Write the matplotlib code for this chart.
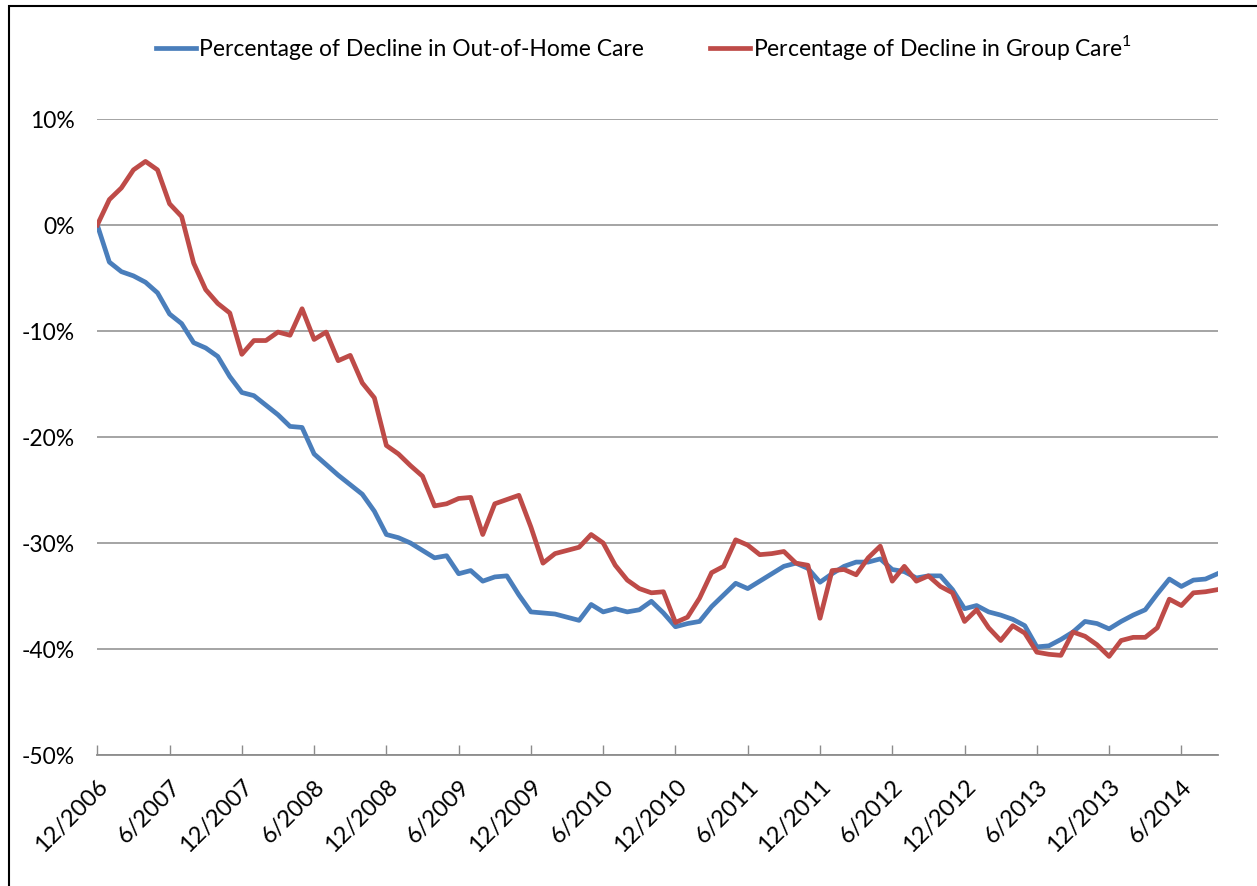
import matplotlib
matplotlib.use("Agg")
import matplotlib.pyplot as plt
from matplotlib.patches import Rectangle
import numpy as np

plt.rcParams['font.family'] = ['Lato', 'DejaVu Sans']

# Monthly data 12/2006 .. 9/2014
start_month, start_year = 12, 2006
out_of_home = [0, -3.5, -4.4, -4.8, -5.4, -6.4, -8.4, -9.3, -11.1, -11.6,
               -12.4, -14.3, -15.8, -16.1, -17.0, -17.9, -19.0, -19.1, -21.6, -22.6,
               -23.6, -24.5, -25.4, -27.0, -29.2, -29.5, -30.0, -30.7, -31.4, -31.2,
               -32.9, -32.6, -33.6, -33.2, -33.1, -34.9, -36.5, -36.6, -36.7, -37.0,
               -37.3, -35.8, -36.5, -36.2, -36.5, -36.3, -35.5, -36.6, -37.9, -37.6,
               -37.4, -36.0, -34.9, -33.8, -34.3, -33.6, -32.9, -32.2, -31.9, -32.4,
               -33.7, -32.9, -32.2, -31.8, -31.8, -31.5, -32.5, -32.7, -33.3, -33.1,
               -33.1, -34.4, -36.2, -35.9, -36.5, -36.8, -37.2, -37.8, -39.8, -39.7,
               -39.1, -38.4, -37.4, -37.6, -38.1, -37.4, -36.8, -36.3, -34.8, -33.4,
               -34.1, -33.5, -33.4, -32.9]
group_care = [0, 2.4, 3.5, 5.2, 6.0, 5.2, 2.0, 0.8, -3.6, -6.1,
              -7.4, -8.3, -12.2, -10.9, -10.9, -10.1, -10.4, -7.9, -10.8, -10.1,
              -12.8, -12.3, -14.9, -16.3, -20.8, -21.6, -22.7, -23.7, -26.5, -26.3,
              -25.8, -25.7, -29.2, -26.3, -25.9, -25.5, -28.5, -31.9, -31.0, -30.7,
              -30.4, -29.2, -30.0, -32.1, -33.5, -34.3, -34.7, -34.6, -37.5, -37.0,
              -35.2, -32.8, -32.2, -29.7, -30.2, -31.1, -31.0, -30.8, -31.9, -32.1,
              -37.1, -32.6, -32.5, -33.0, -31.4, -30.3, -33.6, -32.2, -33.6, -33.1,
              -34.1, -34.7, -37.4, -36.3, -38.0, -39.2, -37.8, -38.5, -40.3, -40.5,
              -40.6, -38.4, -38.8, -39.6, -40.7, -39.2, -38.9, -38.9, -38.0, -35.3,
              -35.9, -34.7, -34.6, -34.4]
y_ticks = [10, 0, -10, -20, -30, -40, -50]
label_blue = "Percentage of Decline in Out-of-Home Care"
label_red = "Percentage of Decline in Group Care$^{\\mathregular{1}}$"

n = len(out_of_home)
months = []
m, yr = start_month, start_year
for _ in range(n):
    months.append(f"{m}/{yr}")
    m += 1
    if m > 12:
        m = 1
        yr += 1
x = np.arange(n)

fig = plt.figure(figsize=(12.57, 8.86), dpi=100)
ax = fig.add_axes([97.3/1257, 1-755/886, (1217.5-97.3)/1257, (755-119)/886])

ax.plot(x, out_of_home, color='#4A7EBB', lw=3.4, label=label_blue, solid_joinstyle='round')
ax.plot(x, group_care, color='#BE4B48', lw=3.4, label=label_red, solid_joinstyle='round')

ax.set_xlim(0, n-1)
ax.set_ylim(-50, 10)
ax.set_yticks(y_ticks)
ax.set_yticklabels([f"{v}%" for v in y_ticks], fontsize=16.5)
ax.yaxis.grid(True, color='#8C8C8C', lw=1.1)
ax.set_axisbelow(True)
ax.tick_params(axis='y', length=0, pad=16)

tick_idx = list(range(0, n, 6))
ax.set_xticks(tick_idx)
ax.set_xticklabels([months[i] for i in tick_idx], rotation=45, ha='right', va='top',
                   rotation_mode='anchor', fontsize=17)
ax.tick_params(axis='x', direction='in', length=7, width=1, color='#8C8C8C', pad=15)

for s in ['top', 'right', 'left']:
    ax.spines[s].set_visible(False)
ax.spines['bottom'].set_color('#8C8C8C')
ax.spines['bottom'].set_linewidth(1.3)

leg = fig.legend(loc='center', bbox_to_anchor=(644/1257, 1-48/886), ncol=2, frameon=False,
                 fontsize=16.5, handlelength=1.75, handletextpad=0.1, columnspacing=2.9)

fig.patches.append(Rectangle((9/1257, -0.1), 1.2, 1.1 - 6/886, transform=fig.transFigure,
                             fill=False, edgecolor='black', lw=1.5))

fig.savefig("out.png", dpi=100)
